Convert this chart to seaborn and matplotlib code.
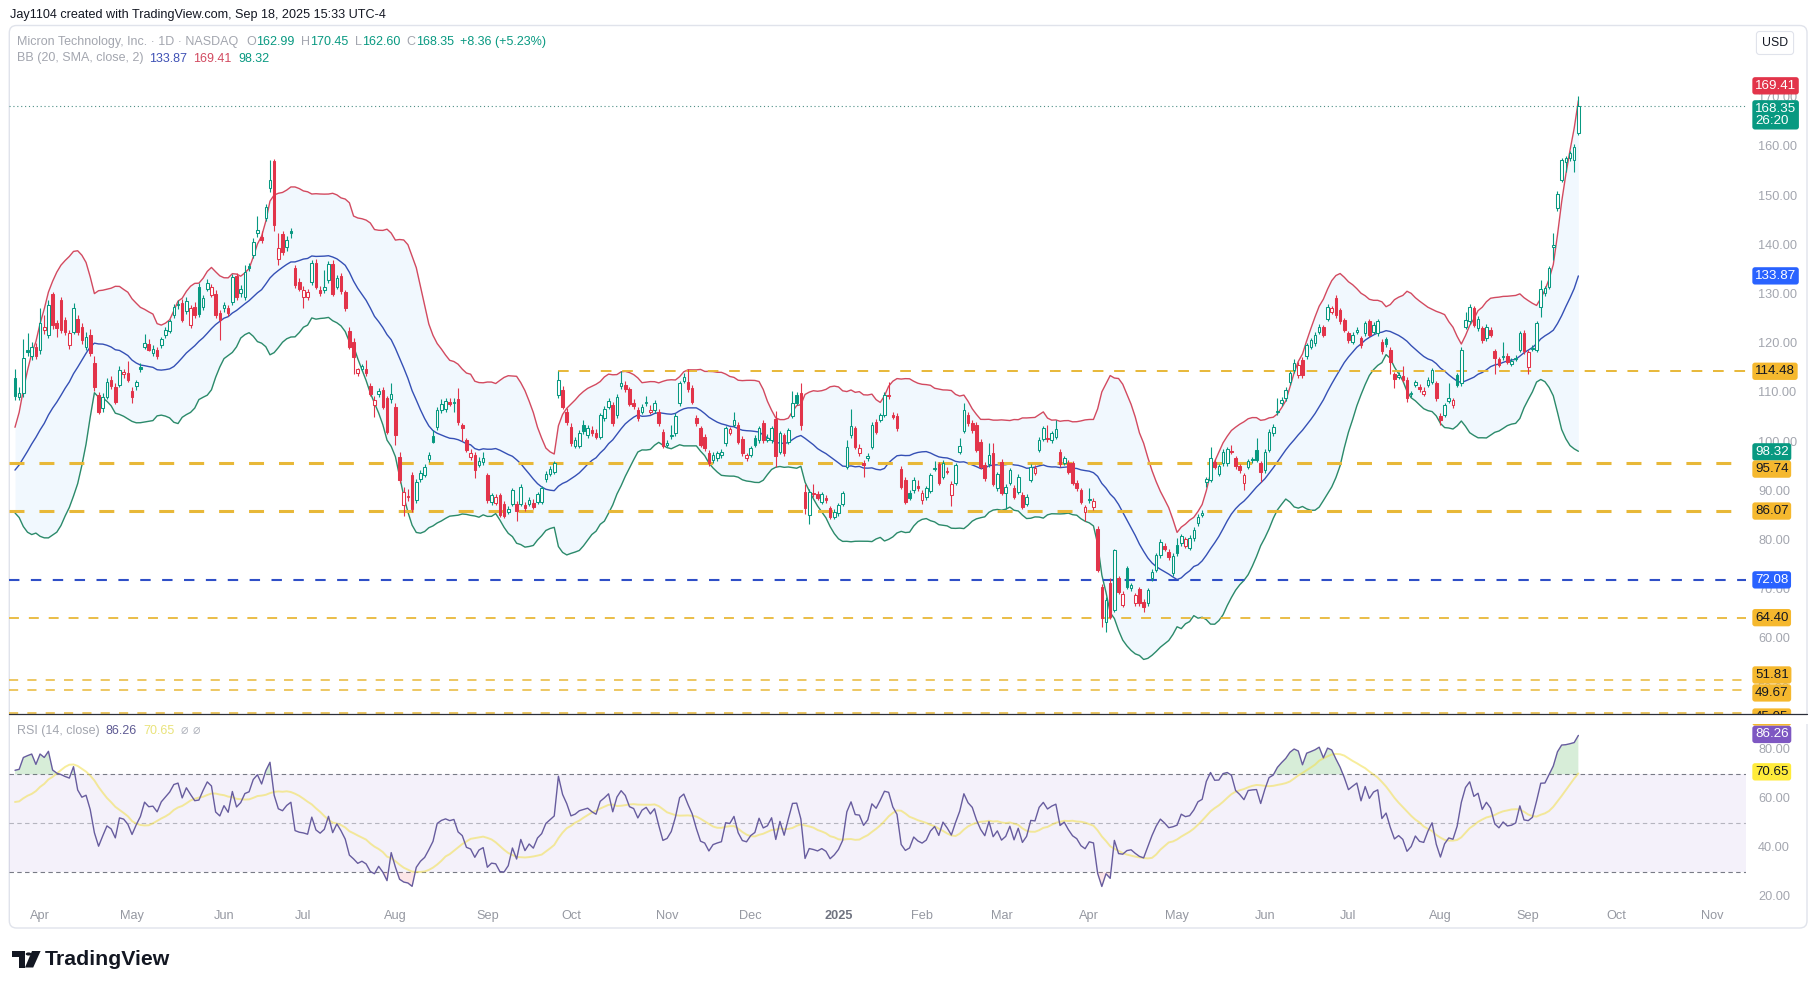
import numpy as np
import pandas as pd
import seaborn as sns
import matplotlib.pyplot as plt
from matplotlib.patches import FancyBboxPatch, Rectangle, Polygon, Circle
from matplotlib.lines import Line2D

# ---------------- data ----------------
# closes before the first visible bar (Jan 2 - Mar 20 2024), only used to seed BB / RSI
warmup_closes = [84.1, 82.0, 81.6, 81.2, 84.1, 84.7, 84.0, 83.5, 84.2, 85.7, 84.5, 86.8, 88.9, 88.3, 88.9, 90.3,
                 89.1, 88.2, 88.0, 87.0, 85.7, 87.9, 87.0, 86.7, 85.8, 87.2, 88.0, 88.6, 87.5, 84.9, 85.7, 85.9,
                 83.5, 83.8, 84.1, 89.6, 89.0, 89.5, 90.5, 89.9, 90.6, 94.1, 96.8, 93.7, 96.0, 98.9, 95.2, 93.6,
                 96.6, 94.0, 95.9, 92.7, 93.1, 92.5, 95.74]

# daily bars Mar 21 2024 - Sep 18 2025
opens = [
    113.2, 109.2, 110.0, 118.9, 117.5, 119.5, 118.8, 122.8, 121.8, 130.2,
    124.3, 128.9, 124.9, 119.8, 122.5, 125.1, 123.5, 119.5, 121.8, 116.1,
    109.6, 107.0, 109.3, 112.7, 111.3, 111.7, 113.9, 114.1, 110.5, 111.4,
    115.3, 119.5, 120.0, 118.1, 118.9, 119.8, 121.8, 122.7, 125.9, 127.9,
    128.4, 126.8, 123.9, 127.6, 131.7, 127.6, 131.3, 130.0, 130.2, 126.3,
    127.3, 127.3, 128.6, 133.8, 130.3, 129.5, 135.8, 138.1, 142.5, 141.8,
    145.6, 151.7, 157.3, 137.4, 142.3, 139.8, 143.0, 135.4, 132.7, 129.6,
    129.6, 132.7, 136.5, 131.1, 130.9, 133.0, 136.3, 131.7, 133.8, 130.5,
    122.7, 120.5, 114.1, 115.0, 114.9, 111.4, 107.6, 109.8, 110.7, 109.0,
    108.8, 107.3, 97.1, 87.3, 89.0, 93.4, 88.3, 92.6, 93.4, 96.6,
    101.3, 103.1, 106.6, 106.8, 108.2, 108.0, 108.8, 103.5, 100.5, 97.1,
    97.5, 95.4, 96.0, 93.4, 88.0, 87.8, 89.3, 87.6, 85.9, 87.6,
    87.6, 87.6, 87.3, 87.6, 87.8, 88.0, 88.0, 92.5, 93.7, 94.1,
    109.7, 110.7, 106.3, 103.2, 99.3, 99.3, 103.6, 101.5, 102.5, 102.0,
    101.2, 104.9, 107.3, 107.6, 105.6, 111.4, 111.7, 110.8, 108.1, 106.6,
    106.3, 108.0, 106.2, 106.6, 106.3, 102.2, 99.5, 101.3, 101.9, 108.0,
    112.5, 112.4, 111.0, 104.9, 102.9, 101.2, 97.8, 96.4, 96.8, 97.4,
    99.8, 102.0, 103.6, 103.6, 100.8, 96.8, 97.5, 100.9, 100.5, 103.9,
    100.6, 100.5, 104.7, 98.1, 101.5, 100.2, 105.4, 109.6, 110.0, 90.0,
    85.2, 89.7, 89.5, 88.0, 88.8, 86.6, 84.9, 85.6, 87.6, 95.1,
    101.5, 102.9, 97.8, 95.8, 96.8, 99.1, 104.2, 104.6, 105.6, 109.7,
    105.6, 105.4, 94.7, 92.4, 89.8, 90.3, 91.2, 88.4, 88.9, 90.2,
    94.7, 95.6, 93.0, 94.3, 89.3, 91.8, 98.1, 102.4, 105.6, 103.9,
    103.6, 100.2, 95.4, 95.6, 97.8, 90.7, 96.1, 89.8, 91.8, 90.7,
    90.0, 89.3, 87.6, 92.4, 93.8, 98.5, 100.8, 101.0, 100.5, 101.2,
    98.1, 95.9, 95.9, 95.8, 91.8, 90.3, 85.9, 88.3, 86.8, 82.5,
    70.7, 63.6, 71.5, 66.0, 72.4, 67.0, 74.4, 70.5, 67.3, 70.2,
    67.6, 67.3, 72.4, 74.1, 77.1, 79.0, 77.8, 73.4, 79.1, 79.5,
    79.0, 78.6, 80.5, 83.6, 85.3, 91.9, 92.4, 96.1, 93.6, 95.8,
    95.8, 98.3, 96.8, 95.2, 91.7, 95.1, 96.6, 98.5, 95.8, 94.4,
    98.5, 101.9, 106.2, 108.0, 109.0, 112.2, 114.7, 113.7, 116.8, 117.5,
    119.5, 120.2, 122.5, 123.4, 125.2, 126.6, 129.3, 126.9, 124.9, 122.2,
    120.5, 122.5, 121.2, 122.2, 124.6, 122.5, 122.2, 120.5, 121.0, 118.9,
    113.9, 113.4, 113.5, 112.8, 109.8, 111.7, 111.3, 109.9, 111.7, 112.4,
    112.0, 105.4, 105.6, 108.5, 107.6, 113.7, 112.0, 123.5, 124.6, 127.3,
    123.2, 123.2, 121.2, 122.9, 118.5, 116.9, 117.3, 117.6, 116.0, 117.0,
    118.8, 122.3, 115.4, 119.0, 118.8, 127.6, 130.3, 131.7, 139.8, 147.6,
    153.4, 157.1, 157.8, 157.4, 162.99]

highs = [
    115.0, 111.2, 121.0, 122.3, 120.5, 120.2, 127.3, 126.0, 129.0, 130.6,
    125.0, 129.5, 125.6, 122.9, 128.4, 126.0, 124.2, 122.4, 123.0, 117.5,
    110.2, 110.0, 113.2, 113.5, 112.0, 115.5, 115.0, 116.5, 111.2, 112.8,
    116.2, 122.0, 121.0, 119.8, 119.5, 121.5, 123.5, 125.2, 128.2, 129.0,
    129.2, 129.5, 128.0, 128.5, 132.5, 130.0, 133.2, 132.3, 131.0, 127.0,
    128.5, 128.0, 134.2, 134.5, 132.0, 136.0, 136.5, 141.5, 146.0, 143.0,
    148.5, 157.5, 157.6, 142.5, 143.0, 142.0, 143.5, 136.0, 133.5, 131.8,
    131.2, 137.0, 137.2, 131.8, 135.0, 136.8, 137.0, 134.0, 134.5, 131.0,
    123.5, 121.2, 115.2, 116.0, 116.8, 112.0, 109.5, 111.0, 111.2, 109.5,
    112.0, 108.0, 98.0, 91.0, 90.5, 94.0, 92.5, 94.5, 95.6, 98.0,
    102.5, 107.2, 108.8, 109.0, 109.0, 109.0, 111.0, 104.0, 101.0, 98.6,
    98.0, 97.0, 98.0, 93.8, 89.8, 89.5, 89.8, 88.2, 87.0, 90.8,
    88.2, 91.6, 88.0, 89.0, 88.5, 90.0, 91.2, 94.2, 95.2, 96.3,
    114.5, 111.5, 107.0, 104.0, 101.2, 102.5, 104.5, 103.5, 103.3, 102.8,
    106.0, 107.5, 109.0, 108.2, 109.8, 114.5, 112.5, 111.3, 108.8, 107.2,
    107.8, 109.5, 107.6, 108.6, 106.9, 102.8, 100.5, 103.6, 105.9, 112.5,
    114.2, 115.0, 111.6, 105.5, 103.4, 101.8, 98.4, 98.0, 98.3, 98.6,
    103.4, 103.2, 106.3, 104.2, 101.3, 97.9, 99.3, 101.5, 103.4, 104.5,
    101.8, 103.4, 106.5, 102.4, 102.0, 103.0, 110.5, 110.3, 112.0, 91.5,
    90.5, 91.5, 90.2, 90.0, 89.3, 87.1, 86.4, 87.8, 90.2, 100.5,
    106.8, 103.4, 99.6, 96.4, 97.8, 104.1, 104.8, 106.1, 110.2, 112.3,
    106.2, 106.0, 95.2, 92.9, 90.4, 92.9, 92.3, 90.3, 91.2, 93.9,
    96.3, 96.1, 96.4, 95.0, 92.1, 95.9, 101.0, 108.0, 106.3, 104.5,
    104.2, 100.8, 96.0, 99.8, 100.0, 94.1, 96.7, 91.5, 94.9, 91.3,
    93.5, 89.9, 89.5, 95.6, 95.5, 101.1, 103.4, 103.5, 102.4, 104.5,
    98.6, 97.3, 96.4, 96.3, 92.3, 90.8, 87.3, 90.7, 88.7, 83.0,
    71.2, 68.5, 72.5, 78.3, 72.9, 69.8, 74.9, 71.5, 69.5, 70.7,
    68.1, 70.5, 74.2, 77.6, 80.3, 79.6, 78.3, 77.5, 80.5, 81.5,
    80.8, 81.1, 82.8, 85.4, 86.2, 93.0, 99.0, 96.6, 95.7, 98.6,
    99.1, 99.5, 97.3, 95.7, 93.9, 96.7, 97.1, 101.0, 96.3, 98.6,
    102.7, 103.7, 109.0, 109.2, 111.2, 114.6, 117.0, 116.3, 117.3, 120.3,
    121.3, 122.4, 124.0, 123.9, 128.1, 127.8, 130.0, 127.4, 125.4, 122.7,
    122.4, 123.5, 121.7, 124.7, 125.1, 124.4, 125.1, 121.0, 121.5, 119.4,
    114.4, 114.3, 115.5, 113.3, 110.5, 112.8, 111.8, 111.2, 113.3, 115.2,
    112.5, 105.9, 108.1, 112.0, 109.1, 114.2, 119.4, 126.5, 128.1, 127.8,
    125.7, 123.7, 124.0, 123.4, 119.0, 117.4, 120.5, 118.1, 117.1, 117.7,
    122.7, 122.8, 118.8, 119.8, 124.7, 133.0, 131.8, 135.9, 142.5, 151.1,
    157.9, 158.3, 159.3, 160.6, 170.45]

lows = [
    108.6, 108.6, 109.2, 117.5, 116.8, 116.9, 118.0, 122.0, 121.2, 123.0,
    121.5, 122.2, 121.8, 119.0, 122.0, 121.8, 120.0, 118.9, 117.5, 110.5,
    105.8, 106.2, 108.8, 110.8, 107.9, 111.2, 113.2, 112.2, 108.0, 110.6,
    114.4, 119.0, 118.5, 117.6, 117.0, 119.2, 121.3, 122.2, 125.4, 127.2,
    124.4, 126.2, 123.2, 125.3, 125.6, 127.0, 130.8, 129.5, 125.3, 120.8,
    126.5, 125.8, 128.0, 129.0, 129.6, 129.0, 134.9, 137.5, 141.8, 140.5,
    145.0, 151.0, 143.0, 136.0, 138.2, 139.0, 141.6, 131.5, 130.8, 127.4,
    129.0, 132.0, 131.2, 129.8, 130.4, 132.5, 129.8, 131.2, 130.2, 126.8,
    119.0, 114.0, 113.6, 114.5, 113.6, 109.5, 105.1, 109.2, 106.9, 101.8,
    108.0, 99.5, 91.8, 85.0, 88.2, 85.8, 87.8, 92.0, 93.0, 96.0,
    99.8, 102.6, 106.0, 106.2, 107.5, 106.2, 103.6, 100.4, 98.0, 96.5,
    92.7, 95.0, 95.5, 87.8, 87.4, 87.2, 84.8, 84.6, 85.5, 87.0,
    84.0, 87.0, 86.0, 87.0, 86.4, 87.5, 87.5, 92.0, 93.2, 93.6,
    109.0, 106.8, 103.6, 99.3, 98.8, 98.8, 101.8, 101.0, 101.4, 100.7,
    100.8, 104.4, 106.8, 103.4, 105.0, 110.8, 110.2, 107.4, 106.8, 104.4,
    105.8, 107.5, 105.7, 106.0, 103.4, 98.8, 99.0, 100.8, 101.4, 107.5,
    112.0, 110.3, 107.8, 103.4, 99.0, 98.3, 95.3, 95.9, 96.3, 96.9,
    99.3, 101.5, 103.1, 99.7, 97.3, 96.3, 97.0, 99.0, 100.0, 100.0,
    100.2, 100.0, 95.0, 97.6, 97.3, 99.7, 104.9, 107.6, 102.5, 85.5,
    83.4, 88.9, 88.3, 87.5, 87.8, 84.4, 84.4, 85.1, 87.1, 94.6,
    101.0, 98.6, 97.3, 93.0, 96.3, 98.6, 101.7, 104.1, 105.1, 108.8,
    104.7, 102.4, 90.5, 87.5, 88.3, 89.8, 90.2, 87.6, 88.4, 89.7,
    94.2, 91.3, 92.5, 93.5, 87.0, 91.3, 97.6, 101.9, 103.4, 102.0,
    98.0, 94.6, 92.2, 95.1, 91.1, 90.2, 89.3, 86.5, 91.3, 88.5,
    89.5, 86.4, 87.1, 91.9, 93.3, 98.0, 100.3, 100.2, 100.0, 100.7,
    95.1, 95.4, 93.6, 91.3, 90.2, 87.5, 84.0, 87.8, 86.3, 73.6,
    62.5, 61.4, 64.1, 65.5, 69.2, 66.5, 70.2, 69.8, 66.8, 66.8,
    65.6, 66.8, 71.9, 73.6, 76.6, 77.9, 76.2, 72.9, 77.0, 79.0,
    78.5, 78.1, 80.0, 83.1, 84.8, 91.0, 91.9, 94.6, 93.1, 95.3,
    95.3, 97.6, 94.7, 93.9, 90.3, 94.6, 95.9, 96.0, 92.0, 93.9,
    98.0, 101.4, 105.6, 107.5, 108.5, 111.7, 114.2, 113.2, 113.2, 117.0,
    119.0, 119.7, 122.0, 121.4, 124.7, 126.1, 125.4, 124.1, 122.4, 120.3,
    120.0, 122.0, 119.3, 121.7, 121.4, 122.0, 121.7, 118.0, 119.5, 114.0,
    111.0, 112.9, 112.2, 108.3, 109.3, 111.2, 110.3, 109.4, 111.2, 111.9,
    108.5, 103.5, 105.1, 108.0, 107.1, 111.2, 111.5, 123.0, 124.1, 123.4,
    122.7, 120.3, 120.7, 121.4, 114.0, 115.3, 116.8, 115.9, 115.5, 116.5,
    118.3, 118.0, 114.0, 118.6, 118.3, 125.5, 129.8, 131.2, 137.0, 147.1,
    152.9, 155.0, 157.3, 155.0, 162.60]

closes = [
    109.5, 110.0, 117.1, 118.4, 119.5, 117.5, 124.2, 123.5, 127.9, 123.9,
    123.2, 122.9, 122.5, 122.2, 127.4, 122.5, 120.8, 121.5, 118.1, 111.3,
    106.3, 109.3, 112.4, 111.4, 108.3, 114.7, 114.3, 112.7, 109.3, 112.2,
    114.9, 120.2, 118.9, 119.1, 117.6, 121.0, 122.8, 124.6, 127.6, 128.2,
    125.0, 128.8, 127.3, 125.9, 126.1, 129.3, 132.5, 131.7, 125.9, 124.9,
    128.0, 126.4, 133.6, 129.6, 131.2, 134.7, 135.4, 140.8, 143.2, 141.1,
    147.9, 153.4, 144.2, 139.5, 138.8, 141.1, 142.5, 132.0, 131.3, 131.0,
    130.5, 136.5, 131.7, 130.4, 131.7, 136.3, 130.2, 133.4, 130.7, 127.3,
    119.5, 117.4, 114.9, 115.5, 114.1, 109.9, 108.6, 110.4, 107.3, 102.2,
    109.8, 101.5, 92.4, 90.0, 89.2, 86.4, 92.0, 93.9, 95.1, 97.5,
    100.2, 106.7, 107.9, 108.5, 107.9, 108.3, 104.2, 102.9, 98.5, 97.8,
    94.4, 96.2, 96.8, 88.3, 89.3, 89.0, 85.3, 85.1, 86.4, 90.3,
    86.0, 91.0, 86.6, 88.4, 86.8, 89.5, 90.7, 93.6, 94.7, 95.8,
    112.8, 107.3, 104.2, 99.8, 100.5, 101.9, 102.4, 102.9, 101.9, 101.2,
    105.6, 106.9, 108.4, 103.9, 109.3, 112.0, 110.8, 107.9, 107.4, 104.9,
    107.3, 108.2, 106.6, 108.1, 103.9, 99.3, 99.8, 101.5, 105.4, 112.0,
    113.4, 110.8, 108.3, 103.9, 99.5, 98.8, 95.8, 97.4, 97.8, 98.1,
    102.9, 102.7, 104.6, 100.2, 97.8, 97.4, 98.8, 99.5, 102.9, 100.5,
    101.0, 102.9, 97.3, 101.9, 97.8, 102.5, 108.0, 108.1, 103.6, 86.6,
    90.0, 89.5, 88.8, 89.5, 88.3, 84.9, 85.9, 87.3, 89.7, 99.1,
    103.3, 99.1, 98.9, 95.4, 97.3, 103.6, 102.2, 105.6, 109.7, 109.4,
    105.2, 102.9, 91.0, 88.0, 88.8, 92.4, 90.7, 89.8, 90.7, 93.4,
    94.8, 91.8, 95.9, 94.0, 91.6, 95.4, 99.3, 106.6, 103.9, 102.5,
    98.5, 95.1, 92.7, 97.5, 91.6, 93.6, 89.8, 91.0, 94.4, 89.0,
    93.0, 86.9, 89.0, 95.1, 94.9, 100.6, 102.9, 100.7, 101.9, 102.7,
    95.6, 96.8, 94.1, 91.8, 90.7, 88.0, 86.8, 88.6, 88.2, 74.1,
    64.3, 68.0, 64.6, 78.1, 69.7, 69.3, 70.7, 71.0, 69.0, 67.3,
    66.5, 70.0, 73.7, 77.1, 79.8, 78.4, 76.7, 77.0, 77.5, 81.0,
    80.3, 80.6, 82.3, 84.9, 85.7, 92.5, 96.8, 95.1, 95.2, 98.1,
    98.6, 98.1, 95.2, 94.4, 93.4, 96.2, 96.4, 96.5, 94.1, 98.1,
    102.2, 103.2, 106.4, 108.6, 110.7, 114.1, 116.1, 115.8, 113.7, 119.8,
    120.8, 121.9, 123.5, 121.9, 127.6, 127.3, 125.9, 124.6, 122.9, 120.8,
    121.9, 122.9, 119.8, 124.2, 121.9, 123.9, 124.6, 118.5, 120.0, 116.4,
    113.0, 113.8, 112.7, 109.0, 110.0, 112.3, 110.8, 110.5, 112.8, 114.7,
    109.0, 104.6, 107.6, 109.0, 108.6, 111.7, 118.9, 124.9, 127.6, 123.9,
    125.2, 120.8, 123.5, 121.9, 117.1, 115.8, 117.6, 116.4, 116.6, 117.2,
    122.2, 118.5, 118.3, 119.2, 124.2, 131.3, 131.4, 135.4, 140.1, 150.6,
    157.4, 157.8, 158.8, 159.99, 168.35]

market_holidays = ["2024-03-29", "2024-05-27", "2024-06-19", "2024-07-04", "2024-09-02", "2024-11-28",
                   "2024-12-25", "2025-01-01", "2025-01-09", "2025-01-20", "2025-02-17", "2025-04-18",
                   "2025-05-26", "2025-06-19", "2025-07-04", "2025-09-01", "2025-11-27"]

level_prices = [114.48, 95.74, 86.07, 72.08, 64.40, 51.81, 49.67, 45.05]
level_start_bar = [130, None, None, None, None, None, None, None]

ohlc_values = ["162.99", "170.45", "162.60", "168.35"]
change_text = "+8.36 (+5.23%)"
bb_values = ["133.87", "169.41", "98.32"]
rsi_values = ["86.26", "70.65"]
last_price, bb_upper_last, bb_basis_last, bb_lower_last = 168.35, 169.41, 133.87, 98.32
rsi_last, rsi_ma_last = 86.26, 70.65
price_ticks = [50, 60, 70, 80, 90, 100, 110, 120, 130, 140, 150, 160, 170]
rsi_ticks = [20, 40, 60, 80]

# ---------------- colours ----------------
GREEN = "#089981"
RED = "#E2344A"
BLUE = "#2962FF"
YELLOW_LINE = "#E8B838"
YELLOW_TAG = "#F5B82E"
GREY_TXT = "#A3A6AF"
PURPLE = "#7E57C2"

# ---------------- indicators ----------------
n = len(closes)
x = np.arange(n)
all_close = pd.Series(warmup_closes + closes)
basis = all_close.rolling(20).mean().iloc[-n:].to_numpy()
dev = all_close.rolling(20).std(ddof=0).iloc[-n:].to_numpy()
upper = basis + 2 * dev
lower = basis - 2 * dev

delta = all_close.diff()
gain = delta.clip(lower=0).ewm(alpha=1 / 14, adjust=False).mean()
loss = (-delta).clip(lower=0).ewm(alpha=1 / 14, adjust=False).mean()
rsi_all = 100 - 100 / (1 + gain / loss)
rsi = rsi_all.iloc[-n:].to_numpy()
rsi_ma = rsi_all.rolling(14).mean().iloc[-n:].to_numpy()

dates = pd.bdate_range("2024-03-21", "2025-11-28", freq="C", holidays=market_holidays)

# ---------------- figure layout (pixels of the 1819x990 output) ----------------
sns.set_theme(style="white")
plt.rcParams["font.family"] = ["Liberation Sans", "DejaVu Sans"]

W, H = 1819, 990
fig = plt.figure(figsize=(W / 100, H / 100), dpi=100)
fig.patch.set_facecolor("white")


def fx(px):
    return px / W


def fy(py):
    return 1 - py / H


PL, PR = 9.3, 1746
MAIN_T, MAIN_B, RSI_B = 25.5, 713.5, 902
XL, XR = -1.36, 414.1

ax = fig.add_axes([fx(PL), fy(MAIN_B), fx(PR - PL), (MAIN_B - MAIN_T) / H])
ax_r = fig.add_axes([fx(PL), fy(RSI_B), fx(PR - PL), (RSI_B - MAIN_B) / H])
for a in (ax, ax_r):
    a.set_facecolor("none")
    for s in a.spines.values():
        s.set_visible(False)
    a.set_xlim(XL, XR)
    a.set_yticks([])
ax.set_ylim(44.92, 184.76)
ax_r.set_ylim(17.9, 94.8)
ax.set_xticks([])

# frame
fig.add_artist(FancyBboxPatch((fx(PL), fy(928)), fx(1807 - PL), (928 - MAIN_T) / H,
                              boxstyle="round,pad=0,rounding_size=0.004", mutation_aspect=W / H,
                              transform=fig.transFigure, fc="none", ec="#E0E3EB", lw=1.0, zorder=0))

# ---------------- Bollinger bands ----------------
bb = pd.DataFrame({"bar": x, "upper": upper, "basis": basis, "lower": lower})
ax.fill_between(x, lower, upper, color="#2196F3", alpha=0.06, lw=0, zorder=1)
sns.lineplot(data=bb, x="bar", y="upper", ax=ax, color="#D24A60", lw=1.0, zorder=2)
sns.lineplot(data=bb, x="bar", y="basis", ax=ax, color="#3550B5", lw=1.0, zorder=2)
sns.lineplot(data=bb, x="bar", y="lower", ax=ax, color="#2B8A6A", lw=1.0, zorder=2)

# ---------------- horizontal levels ----------------
level_styles = [
    dict(color=YELLOW_LINE, lw=1.4, ls=(0, (5.5, 5.5))),
    dict(color=YELLOW_LINE, lw=2.2, ls=(0, (4.9, 4.9))),
    dict(color=YELLOW_LINE, lw=2.2, ls=(0, (4.9, 4.9))),
    dict(color="#2F4FC7", lw=1.5, ls=(0, (5.0, 5.5))),
    dict(color=YELLOW_LINE, lw=1.3, ls=(0, (5.5, 5.5))),
    dict(color=YELLOW_LINE, lw=1.1, ls=(0, (6, 6))),
    dict(color=YELLOW_LINE, lw=1.1, ls=(0, (6, 6))),
    dict(color=YELLOW_LINE, lw=1.1, ls=(0, (6, 6))),
]
for p, start, st in zip(level_prices, level_start_bar, level_styles):
    x0 = XL if start is None else start
    ax.hlines(p, x0, XR, colors=st["color"], linewidth=st["lw"], linestyles=[st["ls"]], zorder=2.5)

ax.hlines(last_price, XL, XR, colors="#4E8F86", linewidth=0.8, linestyles=[(0, (1, 2.5))], zorder=2.5)

# ---------------- hollow candles ----------------
o = np.array(opens)
h = np.array(highs)
l = np.array(lows)
c = np.array(closes)
prev = np.r_[warmup_closes[-1], c[:-1]]
col = np.where(c >= prev, GREEN, RED)
face = np.where(c > o, "white", col)
lo_b = np.minimum(o, c)
hi_b = np.maximum(o, c)
ax.vlines(x, l, lo_b, colors=col, linewidth=0.8, zorder=3)
ax.vlines(x, hi_b, h, colors=col, linewidth=0.8, zorder=3)
ax.bar(x, np.maximum(hi_b - lo_b, 0.2), bottom=lo_b, width=0.62, color=face, edgecolor=col,
       linewidth=0.75, zorder=4)

# ---------------- RSI pane ----------------
ax_r.axhspan(30, 70, color=PURPLE, alpha=0.08, lw=0, zorder=0)
ax_r.hlines([70, 30], XL, XR, colors="#787B86", linewidth=0.8, linestyles=[(0, (4, 3))], zorder=1)
ax_r.hlines(50, XL, XR, colors="#787B86", linewidth=0.8, linestyles=[(0, (4, 3))], alpha=0.5, zorder=1)
ax_r.fill_between(x, 70, rsi, where=rsi > 70, interpolate=True, color="#4CAF50", alpha=0.22, lw=0)
ax_r.fill_between(x, 30, rsi, where=rsi < 30, interpolate=True, color="#F23645", alpha=0.12, lw=0)
rsi_df = pd.DataFrame({"bar": x, "rsi": rsi, "ma": rsi_ma})
sns.lineplot(data=rsi_df, x="bar", y="ma", ax=ax_r, color="#F2DF4A", lw=1.4, alpha=0.55, zorder=2)
sns.lineplot(data=rsi_df, x="bar", y="rsi", ax=ax_r, color="#675C9E", lw=1.0, zorder=3)

for a in (ax, ax_r):
    a.set_xlabel("")
    a.set_ylabel("")
    a.set_xlim(XL, XR)

# month labels
month_pos, month_lab = [], []
for k in range(1, len(dates)):
    if dates[k].month != dates[k - 1].month:
        month_pos.append(k)
        month_lab.append(str(dates[k].year) if dates[k].month == 1 else dates[k].strftime("%b"))
ax_r.set_xticks(month_pos)
ax_r.set_xticklabels(month_lab)
ax_r.tick_params(axis="x", length=0, pad=6, labelsize=9.2, labelcolor="#9598A1")
for t in ax_r.get_xticklabels():
    if t.get_text().isdigit():
        t.set_fontweight("bold")
        t.set_color("#6F7380")

# ---------------- right price scale ----------------
def y_of(axis, v):
    return axis.transData.transform((0, v))[1] / H


for v in price_ticks:
    fig.text(fx(1758), y_of(ax, v), f"{v:.2f}", fontsize=9.2, color=GREY_TXT, va="center", ha="left", zorder=1)
for v in rsi_ticks:
    fig.text(fx(1758), y_of(ax_r, v), f"{v:.2f}", fontsize=9.2, color=GREY_TXT, va="center", ha="left", zorder=1)


def tag(ypos, text, fc, tc="white"):
    fig.text(fx(1755), ypos, text, fontsize=9.6, color=tc, va="center", ha="left", zorder=6,
             linespacing=1.0,
             bbox=dict(boxstyle="round,pad=0.2,rounding_size=0.2", fc=fc, ec="none"))


tag(y_of(ax, 172.5), f"{bb_upper_last:.2f}", RED)
tag(y_of(ax, 166.6), f"{last_price:.2f}\n26:20", GREEN)
tag(y_of(ax, bb_basis_last), f"{bb_basis_last:.2f}", BLUE)
tag(y_of(ax, level_prices[0]), f"{level_prices[0]:.2f}", YELLOW_TAG, "#131722")
tag(y_of(ax, 98.1), f"{bb_lower_last:.2f}", GREEN)
tag(y_of(ax, 94.6), f"{level_prices[1]:.2f}", YELLOW_TAG, "#131722")
tag(y_of(ax, level_prices[2]), f"{level_prices[2]:.2f}", YELLOW_TAG, "#131722")
tag(y_of(ax, level_prices[3]), f"{level_prices[3]:.2f}", BLUE)
tag(y_of(ax, level_prices[4]), f"{level_prices[4]:.2f}", YELLOW_TAG, "#131722")
tag(y_of(ax, 52.75), f"{level_prices[5]:.2f}", YELLOW_TAG, "#131722")
tag(y_of(ax, 49.1), f"{level_prices[6]:.2f}", YELLOW_TAG, "#131722")
tag(y_of(ax, 44.2), f"{level_prices[7]:.2f}", YELLOW_TAG, "#131722")
tag(y_of(ax_r, rsi_last), rsi_values[0], PURPLE)
tag(y_of(ax_r, 71.0), rsi_values[1], "#FFEB3B", "#131722")

# the lowest tag is cut by the pane edge, as on the reference
fig.add_artist(Rectangle((fx(1747), fy(724)), fx(61), 10.3 / H, transform=fig.transFigure,
                         fc="white", ec="none", zorder=7))
fig.add_artist(Line2D([fx(PL), fx(1807)], [fy(MAIN_B), fy(MAIN_B)], color="#2A2E39", lw=0.9, zorder=8))

fig.text(fx(1775), fy(43), "USD", fontsize=8.8, color="#131722", ha="center", va="center",
         bbox=dict(boxstyle="round,pad=0.45,rounding_size=0.25", fc="white", ec="#E0E3EB", lw=0.8))

# ---------------- header texts ----------------
renderer = fig.canvas.get_renderer()


def rich(px, py, parts, size=9.0):
    cur = px
    for s, color, gap in parts:
        t = fig.text(fx(cur), fy(py), s, fontsize=size, color=color, va="center", ha="left")
        cur += t.get_window_extent(renderer=renderer).width + gap


fig.text(fx(9.5), fy(15), "Jay1104 created with TradingView.com, Sep 18, 2025 15:33 UTC-4",
         fontsize=9.1, color="#131722", va="center", ha="left")

rich(17, 42, [("Micron Technology, Inc. · 1D · NASDAQ", GREY_TXT, 8),
              ("O", GREY_TXT, 0.5), (ohlc_values[0], GREEN, 6),
              ("H", GREY_TXT, 0.5), (ohlc_values[1], GREEN, 6),
              ("L", GREY_TXT, 0.5), (ohlc_values[2], GREEN, 6),
              ("C", GREY_TXT, 0.5), (ohlc_values[3], GREEN, 6),
              (change_text, GREEN, 0)])
rich(17, 58.5, [("BB (20, SMA, close, 2)", GREY_TXT, 6),
                (bb_values[0], "#3F51B5", 6), (bb_values[1], "#D24A60", 6), (bb_values[2], GREEN, 0)])
rich(17, 731, [("RSI (14, close)", GREY_TXT, 6), (rsi_values[0], "#5E5A93", 6),
               (rsi_values[1], "#E9E37A", 6), ("⌀", "#B2B5BE", 5), ("⌀", "#B2B5BE", 0)])

# ---------------- TradingView logo ----------------
logo = [
    Rectangle((fx(11.6), fy(956.5)), fx(13), 5.5 / H),
    Rectangle((fx(18.6), fy(967.5)), fx(6.0), 16.5 / H),
    Polygon([(fx(32.0), fy(951)), (fx(40.6), fy(951)), (fx(33.2), fy(967.5)), (fx(25.0), fy(967.5))]),
]
for p in logo:
    p.set_transform(fig.transFigure)
    p.set_facecolor("#131722")
    p.set_edgecolor("none")
    fig.add_artist(p)
fig.add_artist(Circle((fx(28.6), fy(954.0)), 2.9 / W, transform=fig.transFigure, fc="#131722", ec="none"))
fig.text(fx(45), fy(959.5), "TradingView", fontsize=15.3, fontweight="bold", color="#131722",
         va="center", ha="left")

fig.savefig("out.png", dpi=100, facecolor="white")
